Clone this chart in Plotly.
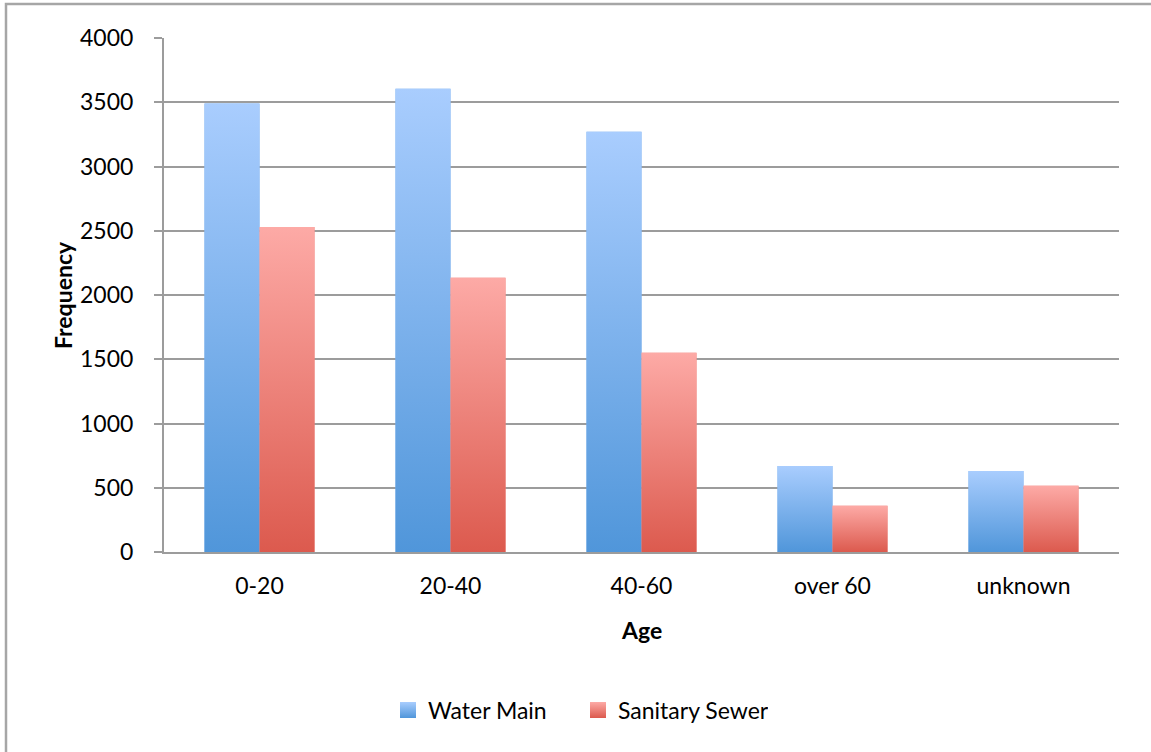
import plotly.graph_objects as go

# Data
ages = ["0-20", "20-40", "40-60", "over 60", "unknown"]
water_main = [3490, 3605, 3270, 670, 630]
sanitary_sewer = [2530, 2135, 1550, 360, 515]

series = [
    ("Water Main", water_main, "#a9cdfe", "#5096da", "#7cb0ec"),
    ("Sanitary Sewer", sanitary_sewer, "#fdaaa6", "#dc5a4e", "#ee837b"),
]

BAR_W = 0.288          # width of one bar in category units
FONT = "Lato, 'Open Sans', sans-serif"
GRID = "#9c9c9c"
FS = 23

W, H = 1151, 752
ML, MR, MT, MB = 164, 32, 38, 200
PW, PH = W - ML - MR, H - MT - MB


def px_x(p):
    return (p - ML) / PW


def px_y(p):
    return (H - MB - p) / PH


fig = go.Figure()

x_pos = list(range(len(ages)))

# Plain bars as the base, grouped side by side
for name, vals, top, bottom, mid in series:
    fig.add_trace(go.Bar(
        name=name, x=x_pos, y=vals, marker=dict(color=mid, line=dict(width=0)),
        width=BAR_W, hoverinfo="skip", showlegend=False,
    ))

# Vertical gradient fills laid over each bar
for k, (name, vals, top, bottom, mid) in enumerate(series):
    sign = -1 if k == 0 else 1
    for i, v in enumerate(vals):
        x0 = i if sign > 0 else i - BAR_W
        x1 = x0 + BAR_W
        fig.add_trace(go.Scatter(
            x=[x0, x1, x1, x0, x0], y=[0, 0, v, v, 0],
            mode="none", fill="toself",
            fillgradient=dict(type="vertical",
                              colorscale=[[0, bottom], [1, top]]),
            showlegend=False, hoverinfo="skip",
        ))

# Legend keys: gradient squares
for name, vals, top, bottom, mid in series:
    fig.add_trace(go.Scatter(
        name=name, x=[None], y=[None], mode="markers",
        marker=dict(symbol="square", size=16, color=top,
                    gradient=dict(type="vertical", color=bottom),
                    line=dict(width=0)),
        hoverinfo="skip",
    ))

fig.update_layout(
    width=W, height=H,
    margin=dict(l=ML, r=MR, t=MT, b=MB),
    paper_bgcolor="white", plot_bgcolor="white",
    barmode="group", bargap=1 - 2 * BAR_W, bargroupgap=0,
    font=dict(family=FONT, size=FS, color="#000000"),
    showlegend=True,
    legend=dict(orientation="h", x=px_x(578), y=px_y(710),
                xanchor="center", yanchor="middle",
                font=dict(size=FS), itemwidth=30, traceorder="normal",
                itemsizing="trace", entrywidth=145),
    xaxis=dict(
        range=[-0.5, len(ages) - 0.5],
        tickvals=x_pos, ticktext=ages,
        showgrid=False, zeroline=False,
        showline=True, linecolor=GRID, linewidth=2,
        ticks="", ticklabelstandoff=12,
        tickfont=dict(size=FS),
    ),
    yaxis=dict(
        range=[0, 4000], dtick=500, tick0=0,
        showgrid=True, gridcolor=GRID, gridwidth=2,
        zeroline=False,
        showline=True, linecolor=GRID, linewidth=2,
        ticks="outside", ticklen=8, tickwidth=2, tickcolor=GRID,
        ticklabelstandoff=16,
        tickfont=dict(size=FS),
    ),
    annotations=[
        dict(text="<b>Frequency</b>", textangle=-90, showarrow=False,
             xref="paper", yref="paper", x=px_x(63), y=px_y(295),
             xanchor="center", yanchor="middle", font=dict(size=FS)),
        dict(text="<b>Age</b>", showarrow=False,
             xref="paper", yref="paper", x=0.5, y=px_y(630),
             xanchor="center", yanchor="middle", font=dict(size=FS)),
    ],
    shapes=[
        # outer frame (left and top edges fall inside the canvas)
        dict(type="rect", xref="paper", yref="paper", layer="above",
             x0=px_x(6), x1=px_x(W + 20), y0=px_y(H + 20), y1=px_y(4),
             line=dict(color="#a6a6a6", width=2.5), fillcolor="rgba(0,0,0,0)"),
    ],
)

fig.write_html("out.html")
